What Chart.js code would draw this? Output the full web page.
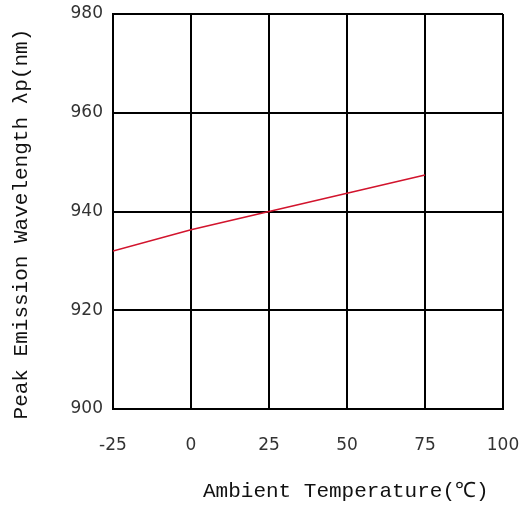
<!DOCTYPE html>
<html>
<head>
<meta charset="utf-8">
<script src="https://cdn.jsdelivr.net/npm/chart.js@4/dist/chart.umd.min.js"></script>
<style>
  html, body { margin: 0; padding: 0; background: #fff; }
  #wrap { width: 526px; height: 506px; }
</style>
</head>
<body>
<div id="wrap"><canvas id="c" width="526" height="506"></canvas></div>
<script>
const temperatures = [-25, 0, 25, 50, 75];
const wavelengths = [932, 936.3, 940, 943.7, 947.4];
const xTicks = [-25, 0, 25, 50, 75, 100];
const yTicks = [900, 920, 940, 960, 980];
const xTitle = "      Ambient Temperature(\u2103)";
const yTitle = "Peak Emission Wavelength \u03BBp(nm)  ";

const points = temperatures.map((t, i) => ({ x: t, y: wavelengths[i] }));

function zeroPad(s) {
  s.paddingLeft = 0; s.paddingRight = 0; s.paddingTop = 0; s.paddingBottom = 0;
}

new Chart(document.getElementById('c'), {
  type: 'line',
  data: {
    datasets: [{
      data: points,
      borderColor: '#d2142d',
      borderWidth: 1.6,
      pointRadius: 0,
      fill: false,
      tension: 0
    }]
  },
  options: {
    responsive: false,
    animation: false,
    devicePixelRatio: 1,
    layout: { padding: { top: 14, right: 23, bottom: 0, left: 0 } },
    plugins: { legend: { display: false }, tooltip: { enabled: false } },
    scales: {
      x: {
        type: 'linear',
        min: xTicks[0],
        max: xTicks[xTicks.length - 1],
        afterBuildTicks: (s) => { s.ticks = xTicks.map(v => ({ value: v })); },
        afterFit: (s) => { s.height = 97; zeroPad(s); },
        grid: { color: '#000', lineWidth: 2, drawTicks: false },
        border: { color: '#000', width: 2 },
        ticks: {
          padding: 26,
          color: '#333',
          font: { family: 'DejaVu Sans', size: 17 },
          maxRotation: 0
        },
        title: {
          display: true,
          text: xTitle,
          color: '#111',
          font: { family: 'Liberation Mono', size: 21 },
          padding: { top: 0, bottom: 2 }
        }
      },
      y: {
        type: 'linear',
        min: yTicks[0],
        max: yTicks[yTicks.length - 1],
        afterBuildTicks: (s) => { s.ticks = yTicks.map(v => ({ value: v })); },
        afterFit: (s) => { s.width = 113; zeroPad(s); },
        grid: { color: '#000', lineWidth: 2, drawTicks: false },
        border: { color: '#000', width: 2 },
        ticks: {
          padding: 10,
          color: '#333',
          font: { family: 'DejaVu Sans', size: 17 }
        },
        title: {
          display: true,
          text: yTitle,
          color: '#111',
          font: { family: 'Liberation Mono', size: 21 },
          padding: { top: 9, bottom: 0 }
        }
      }
    }
  }
});
</script>
</body>
</html>
